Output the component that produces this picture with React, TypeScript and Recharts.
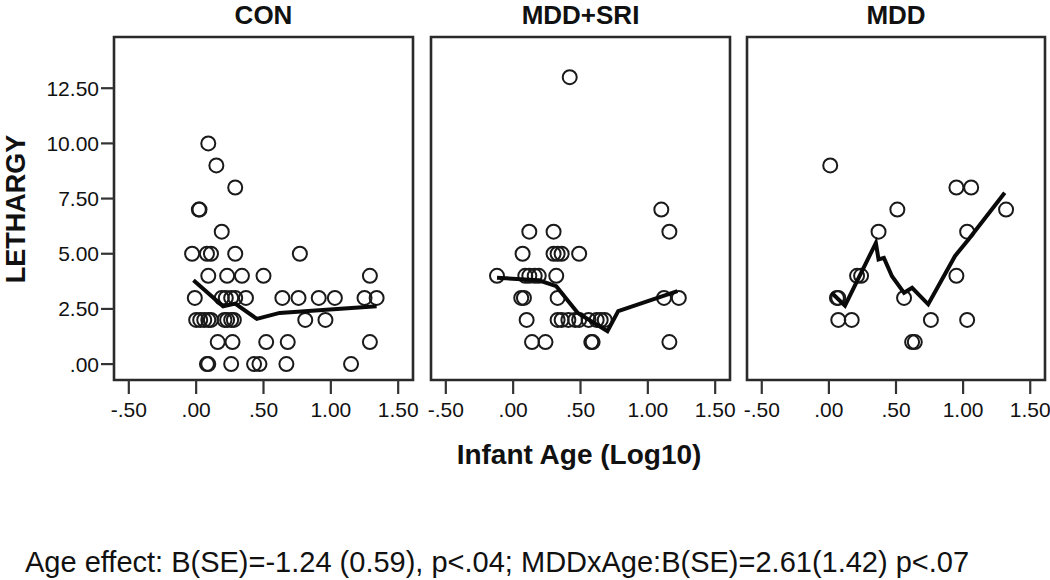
import React from "react";
import { ComposedChart, Scatter, XAxis, YAxis, ReferenceArea } from "recharts";

// ---------- data ----------
const xTicks = [-0.5, 0, 0.5, 1, 1.5];
const yTicks = [0, 2.5, 5, 7.5, 10, 12.5];
const xDomain: [number, number] = [-0.61, 1.61];
const yDomain: [number, number] = [-0.72, 14.82];

const panelTitles = ["CON", "MDD+SRI", "MDD"];

// CON
const conAge = [
  0.09, 0.15, 0.29, 0.02, 0.025, 0.19,
  -0.03, 0.08, 0.11, 0.29, 0.77,
  0.09, 0.23, 0.34, 0.5, 1.29,
  -0.01, 0.19, 0.22, 0.26, 0.29, 0.37, 0.64, 0.76, 0.91, 1.03, 1.25, 1.34,
  0.0, 0.03, 0.06, 0.09, 0.11, 0.21, 0.23, 0.26, 0.28, 0.81, 0.96,
  0.16, 0.27, 0.52, 0.68, 1.29,
  0.08, 0.09, 0.26, 0.43, 0.47, 0.67, 1.15,
];
const conLethargy = [
  10, 9, 8, 7, 7, 6,
  5, 5, 5, 5, 5,
  4, 4, 4, 4, 4,
  3, 3, 3, 3, 3, 3, 3, 3, 3, 3, 3, 3,
  2, 2, 2, 2, 2, 2, 2, 2, 2, 2, 2,
  1, 1, 1, 1, 1,
  0, 0, 0, 0, 0, 0, 0,
];
const conFitAge = [-0.02, 0.2, 0.29, 0.45, 0.62, 1.34];
const conFitLethargy = [3.8, 2.62, 2.74, 2.05, 2.32, 2.62];

// MDD+SRI
const sriAge = [
  0.42, 1.1,
  0.12, 0.3, 1.16,
  0.07, 0.3, 0.33, 0.36, 0.49,
  -0.12, 0.09, 0.12, 0.16, 0.19, 0.32,
  0.06, 0.08, 0.33, 1.12, 1.23,
  0.1, 0.33, 0.36, 0.41, 0.46, 0.49, 0.56, 0.62, 0.65, 0.68,
  0.14, 0.24, 0.58, 0.59, 1.16,
];
const sriLethargy = [
  13, 7,
  6, 6, 6,
  5, 5, 5, 5, 5,
  4, 4, 4, 4, 4, 4,
  3, 3, 3, 3, 3,
  2, 2, 2, 2, 2, 2, 2, 2, 2, 2,
  1, 1, 1, 1, 1,
];
const sriFitAge = [-0.12, 0.19, 0.32, 0.48, 0.7, 0.78, 1.22];
const sriFitLethargy = [3.91, 3.8, 3.53, 2.32, 1.49, 2.4, 3.31];

// MDD
const mddAge = [
  0.01,
  0.95, 1.06,
  0.51, 1.32,
  0.37, 1.03,
  0.21, 0.24, 0.95,
  0.06, 0.07, 0.56,
  0.07, 0.17, 0.76, 1.03,
  0.62, 0.64,
];
const mddLethargy = [
  9,
  8, 8,
  7, 7,
  6, 6,
  4, 4, 4,
  3, 3, 3,
  2, 2, 2, 2,
  1, 1,
];
const mddFitAge = [0.02, 0.12, 0.35, 0.37, 0.41, 0.47, 0.56, 0.62, 0.74, 0.94, 1.04, 1.31];
const mddFitLethargy = [3.23, 2.65, 5.49, 4.74, 4.81, 3.98, 3.23, 3.46, 2.71, 4.9, 5.65, 7.76];

// ---------- helpers ----------
const FONT = "'Liberation Sans', Arial, Helvetica, sans-serif";
const fmt = (v: number) => {
  const s = Math.abs(v).toFixed(2);
  const t = s.startsWith("0") ? s.slice(1) : s;
  return v < 0 ? "-" + t : t;
};
const zip = (xs: number[], ys: number[]) => xs.map((x, i) => ({ x, y: ys[i] }));

const OpenCircle = (props: any) => {
  const { cx, cy } = props;
  if (cx == null || cy == null) return <g />;
  return <circle cx={cx} cy={cy} r={7} fill="none" stroke="#1a1a1a" strokeWidth={2} />;
};
const NoShape = () => <g />;

const W = 1050;
const H = 580;
const PLOT_TOP = 37;
const PLOT_BOTTOM = 380;
const X_AXIS_H = 40;

type PanelProps = {
  ages: number[];
  values: number[];
  fitAges: number[];
  fitValues: number[];
  left: number;
  right: number;
  showY: boolean;
};

const Y_AXIS_W = 80;

function Panel({ ages, values, fitAges, fitValues, left, right, showY }: PanelProps) {
  const pts = zip(ages, values);
  const fit = zip(fitAges, fitValues);
  return (
    <div style={{ position: "absolute", left: 0, top: 0 }}>
      <ComposedChart
        width={W}
        height={H}
        margin={{
          top: PLOT_TOP,
          bottom: H - PLOT_BOTTOM - X_AXIS_H,
          left: showY ? left - Y_AXIS_W : left,
          right: W - right,
        }}
      >
        <XAxis
          type="number"
          dataKey="x"
          domain={xDomain}
          ticks={xTicks}
          allowDataOverflow
          tickFormatter={fmt}
          height={X_AXIS_H}
          axisLine={false}
          tickSize={14}
          tickMargin={8}
          tickLine={{ stroke: "#333", strokeWidth: 2.2 }}
          tick={{ fontSize: 21, fill: "#111", fontFamily: FONT }}
        />
        <YAxis
          type="number"
          dataKey="y"
          domain={yDomain}
          ticks={yTicks}
          allowDataOverflow
          tickFormatter={fmt}
          hide={!showY}
          width={Y_AXIS_W}
          axisLine={false}
          tickSize={13}
          tickMargin={2}
          tickLine={{ stroke: "#333", strokeWidth: 2.2 }}
          tick={{ fontSize: 21, fill: "#111", fontFamily: FONT }}
        />
        <ReferenceArea
          x1={xDomain[0]}
          x2={xDomain[1]}
          y1={yDomain[0]}
          y2={yDomain[1]}
          fill="#ffffff"
          fillOpacity={0}
          stroke="#2a2a2a"
          strokeWidth={2.6}
          ifOverflow="visible"
        />
        <Scatter data={pts} shape={<OpenCircle />} isAnimationActive={false} />
        <Scatter
          data={fit}
          shape={<NoShape />}
          line={{ stroke: "#0a0a0a", strokeWidth: 4 }}
          lineType="joint"
          isAnimationActive={false}
        />
      </ComposedChart>
    </div>
  );
}

const panels = [
  { ages: conAge, values: conLethargy, fitAges: conFitAge, fitValues: conFitLethargy, left: 114, right: 413, showY: true },
  { ages: sriAge, values: sriLethargy, fitAges: sriFitAge, fitValues: sriFitLethargy, left: 431, right: 730, showY: false },
  { ages: mddAge, values: mddLethargy, fitAges: mddFitAge, fitValues: mddFitLethargy, left: 747, right: 1045, showY: false },
];

export default function App() {
  return (
    <div style={{ position: "absolute", left: 0, top: 0, width: W, height: H, background: "#fff", overflow: "hidden" }}>
      {panels.map((p, i) => (
        <Panel key={i} {...p} />
      ))}
      <svg width={W} height={H} style={{ position: "absolute", left: 0, top: 0, pointerEvents: "none" }}>
        {panels.map((p, i) => (
          <text
            key={i}
            x={(p.left + p.right) / 2}
            y={24}
            textAnchor="middle"
            fontFamily={FONT}
            fontWeight="bold"
            fontSize={26}
            fill="#111"
          >
            {panelTitles[i]}
          </text>
        ))}
        <text x={579} y={464} textAnchor="middle" fontFamily={FONT} fontWeight="bold" fontSize={28} fill="#111">
          Infant Age (Log10)
        </text>
        <text
          x={25}
          y={209}
          textAnchor="middle"
          transform="rotate(-90 25 209)"
          fontFamily={FONT}
          fontWeight="bold"
          fontSize={27}
          fill="#111"
        >
          LETHARGY
        </text>
        <text x={25} y={572} fontFamily={FONT} fontSize={29} fill="#111">
          Age effect: B(SE)=-1.24 (0.59), p&lt;.04; MDDxAge:B(SE)=2.61(1.42) p&lt;.07
        </text>
      </svg>
    </div>
  );
}
